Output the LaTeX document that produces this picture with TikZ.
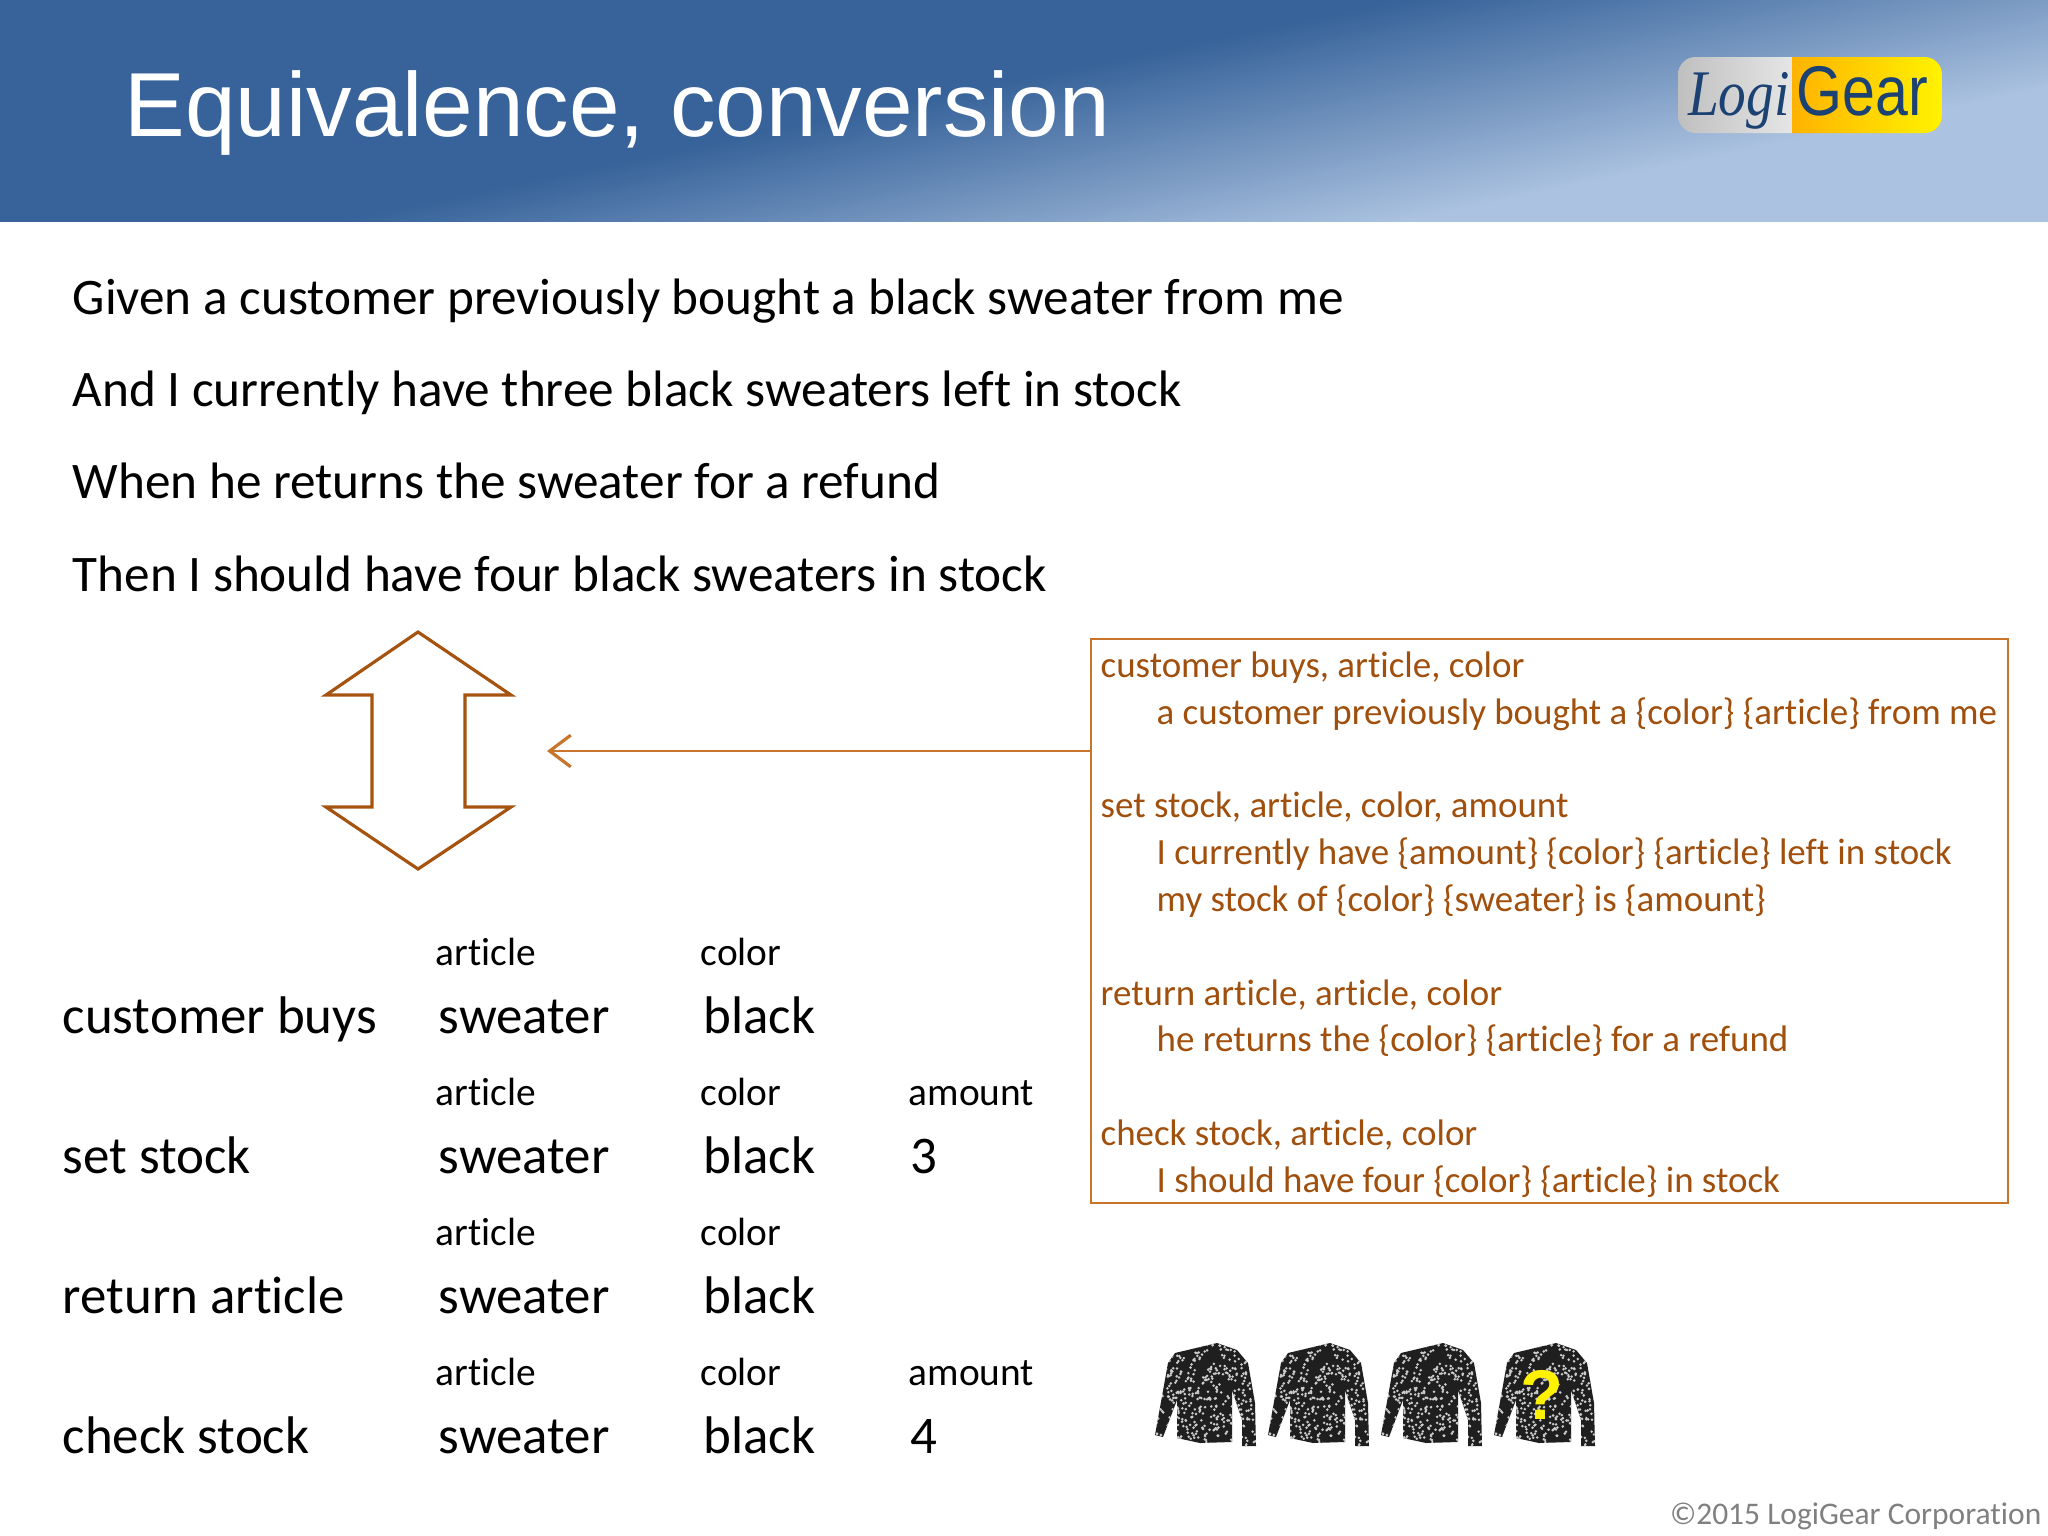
\documentclass[tikz,border=0pt]{standalone}
\usepackage{fontspec}
\setmainfont[RawFeature={-liga}]{Carlito}
\newfontfamily\arialfont{Liberation Sans}
\newfontfamily\timesfont{Liberation Serif}
\usepackage{tikz}
\usetikzlibrary{arrows.meta}
\definecolor{headdark}{HTML}{37639A}
\definecolor{headlight}{HTML}{ABC2E0}
\definecolor{boxtext}{HTML}{A04F0C}
\definecolor{boxline}{HTML}{C8742A}
\definecolor{arrowline}{HTML}{A5530F}
\definecolor{logoblue}{HTML}{1B4273}

\begin{document}
\begin{tikzpicture} [
    x = 0.01cm, y = -0.01cm,
    line/.style = {anchor=base west, inner sep=0pt, font=\fontsize{14.57}{18}\selectfont},
    cell/.style = {anchor=base west, inner sep=0pt, font=\fontsize{15.05}{18}\selectfont},
    hdr/.style = {anchor=base west, inner sep=0pt, font=\fontsize{11.2}{13}\selectfont},
    rule/.style = {anchor=base west, inner sep=0pt, text=boxtext, font=\fontsize{10.5}{13}\selectfont},
    arrow/.style = {draw=boxline, line width=0.7pt, -{Straight Barb[length=6pt,width=9pt,line width=0.9pt]}}
    ]
    \useasboundingbox (0,0) rectangle (2048,1536);
    \fill[white] (0,0) rectangle (2048,1536);

    % header band
    \begin{scope}
        \clip (0,0) rectangle (2048,230);
        \fill[headdark] (0,0) rectangle (2048,230);
        \begin{scope}[transform canvas={shift={(1400,0)},rotate=11.7}]
            \shade[top color=headdark, bottom color=headlight] (-3000,0) rectangle (3000,217);
            \fill[headlight] (-3000,216) rectangle (3000,1200);
        \end{scope}
    \end{scope}
    \fill[white] (0,222) rectangle (2048,232);
    \node[anchor=base west, inner sep=0pt, text=white, font=\arialfont\fontsize{25.85}{30}\selectfont] (title) at (124,136) {Equivalence, conversion};

    % logo
    \begin{scope}
        \clip[rounded corners=5pt] (1678,57) rectangle (1942,133);
        \shade[left color=black!25, right color=black!10] (1678,57) rectangle (1792,133);
        \shade[left color=orange!60!yellow, right color=yellow!90!orange] (1792,57) rectangle (1942,133);
    \end{scope}
    \node[anchor=base east, inner sep=0pt, xscale=0.85, transform shape, text=logoblue, font=\timesfont\itshape\fontsize{18.5}{20}\selectfont] (logi) at (1790,115) {Logi};
    \node[anchor=base west, inner sep=0pt, xscale=0.84, transform shape, text=logoblue, font=\arialfont\fontsize{20}{22}\selectfont] (gear) at (1796,115) {Gear};

    % scenario
    \node[line] (given) at (72,314) {Given a customer previously bought a black sweater from me};
    \node[line] (and) at (72,406) {And I currently have three black sweaters left in stock};
    \node[line] (when) at (72,498) {When he returns the sweater for a refund};
    \node[line] (then) at (72,591) {Then I should have four black sweaters in stock};

    % equivalence arrow
    \draw[arrowline, line width=0.9pt, line join=miter] (418,632) -- (511,695) -- (465,695) -- (465,807) -- (511,807)
        -- (418,869) -- (326,807) -- (372,807) -- (372,695) -- (326,695) -- cycle;

    % action definitions
    \node[draw=boxline, line width=0.7pt, minimum width=917*0.01cm, minimum height=564*0.01cm, anchor=north west, inner sep=0pt] (defs) at (1090,638) {};
    \coordinate (tip) at (547,751);
    \draw[arrow] (defs.west |- tip) -- (tip);

    \node[rule] (r1) at (1100,677) {customer buys, article, color};
    \node[rule] (r2) at (1156,724) {a customer previously bought a \{color\} \{article\} from me};
    \node[rule] (r3) at (1100,817) {set stock, article, color, amount};
    \node[rule] (r4) at (1156,864) {I currently have \{amount\} \{color\} \{article\} left in stock};
    \node[rule] (r5) at (1156,911) {my stock of \{color\} \{sweater\} is \{amount\}};
    \node[rule] (r6) at (1100,1005) {return article, article, color};
    \node[rule] (r7) at (1156,1051) {he returns the \{color\} \{article\} for a refund};
    \node[rule] (r8) at (1100,1145) {check stock, article, color};
    \node[rule] (r9) at (1156,1192) {I should have four \{color\} \{article\} in stock};

    % test lines
    \foreach \row/\base/\action in {a/1033/customer buys, b/1173/set stock, c/1313/return article, d/1453/check stock} {
        \node[hdr] (art\row) at (435,\base-68) {article};
        \node[hdr] (col\row) at (700,\base-68) {color};
        \node[cell] (act\row) at (62,\base) {\action};
        \node[cell] (swe\row) at (438,\base) {sweater};
        \node[cell] (bla\row) at (703,\base) {black};
    }
    \node[hdr] (amtb) at (908,1105) {amount};
    \node[cell] (valb) at (910,1173) {3};
    \node[hdr] (amtd) at (908,1385) {amount};
    \node[cell] (vald) at (910,1453) {4};

    % sweaters
    \foreach \i in {0,1,2,3} {
        \begin{scope}[shift={(1120+113*\i,1320)}]
            \begin{scope}
                \clip (97,23) -- (55,33) -- (48,43) -- (35,115) -- (43,117) -- (57,80) -- (57,118) -- (80,123) -- (112,122)
                    -- (112,70) -- (122,100) -- (122,126) -- (136,126) -- (135,83) -- (128,43) -- (117,30) -- cycle;
                \fill[black!88] (30,20) rectangle (140,130);
                \pgfmathsetseed{17}
                \foreach \n in {1,...,520}
                    \fill[black!20] (30+110*rnd,20+110*rnd) circle (0.4pt);
            \end{scope}
        \end{scope}
    }
    \node[text=yellow, inner sep=0pt, font=\arialfont\bfseries\fontsize{20}{22}\selectfont] (what) at (1542,1395) {?};

    \node[anchor=base east, inner sep=0pt, text=black!50, font=\fontsize{8.95}{11}\selectfont] (copy) at (2042,1524) {©2015 LogiGear Corporation};
\end{tikzpicture}
\end{document}
